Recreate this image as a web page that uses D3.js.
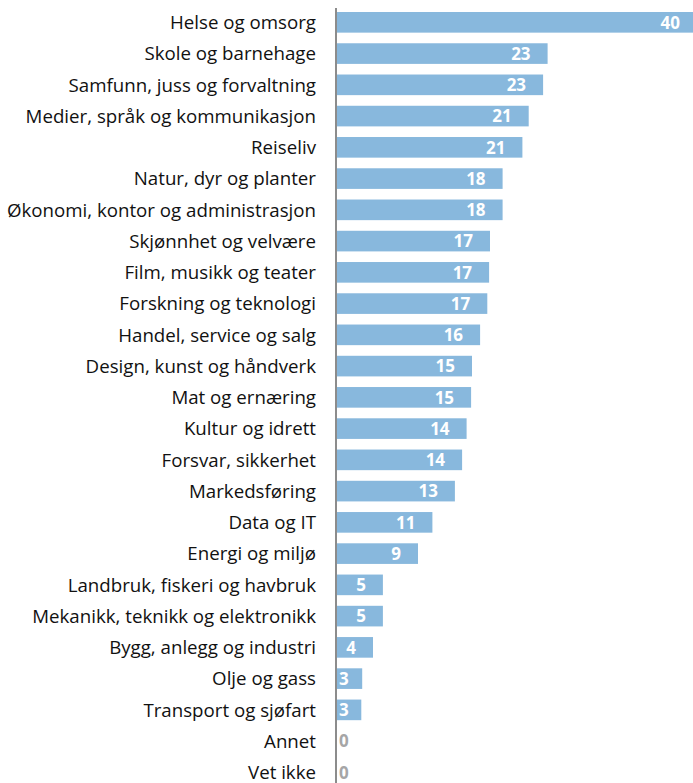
<!DOCTYPE html>
<html>
<head>
<meta charset="utf-8">
<script src="https://cdn.jsdelivr.net/npm/d3@7"></script>
<style>
  body { margin: 0; background: #fff; }
  svg { display: block; }
</style>
</head>
<body>
<div id="chart"></div>
<script>
// categories, top to bottom
const categories = [
  "Helse og omsorg", "Skole og barnehage", "Samfunn, juss og forvaltning",
  "Medier, språk og kommunikasjon", "Reiseliv", "Natur, dyr og planter",
  "Økonomi, kontor og administrasjon", "Skjønnhet og velvære", "Film, musikk og teater",
  "Forskning og teknologi", "Handel, service og salg", "Design, kunst og håndverk",
  "Mat og ernæring", "Kultur og idrett", "Forsvar, sikkerhet", "Markedsføring",
  "Data og IT", "Energi og miljø", "Landbruk, fiskeri og havbruk",
  "Mekanikk, teknikk og elektronikk", "Bygg, anlegg og industri", "Olje og gass",
  "Transport og sjøfart", "Annet", "Vet ikke"
];
// percent
const values = [
  40.0, 23.4, 22.9, 21.3, 20.6, 18.4, 18.4, 17.0, 16.9, 16.7, 15.9, 15.0,
  14.9, 14.4, 13.9, 13.1, 10.6, 9.0, 5.1, 5.1, 4.0, 2.8, 2.7, 0, 0
];

const width = 693, height = 783;
const x0 = 337;

const svg = d3.select("#chart").append("svg")
    .attr("width", width)
    .attr("height", height);

const data = categories.map((c, i) => ({ c, v: values[i] }));

const x = d3.scaleLinear().domain([0, 40]).range([x0, x0 + 360]);
const y = d3.scaleBand().domain(categories).range([6.7, 788]).paddingInner(0.34).paddingOuter(0.17);

svg.selectAll("rect.bar")
  .data(data)
  .join("rect")
    .attr("class", "bar")
    .attr("x", x(0))
    .attr("y", d => y(d.c))
    .attr("width", d => x(d.v) - x(0))
    .attr("height", y.bandwidth())
    .attr("fill", "#88b8dd");

// category labels
svg.selectAll("text.cat")
  .data(data)
  .join("text")
    .attr("class", "cat")
    .attr("x", 316)
    .attr("y", d => y(d.c) + y.bandwidth() / 2)
    .attr("dy", "0.36em")
    .attr("text-anchor", "end")
    .attr("font-family", "'Open Sans', sans-serif")
    .attr("font-size", 18.7)
    .attr("fill", "#111")
    .text(d => d.c);

// value labels
const fmt = d3.format(".0f");
svg.selectAll("text.val")
  .data(data)
  .join("text")
    .attr("class", "val")
    .attr("y", d => y(d.c) + y.bandwidth() / 2)
    .attr("dy", "0.37em")
    .attr("text-anchor", "end")
    .attr("font-family", "'Open Sans', sans-serif")
    .attr("font-weight", "bold")
    .attr("font-size", 17)
    .attr("fill", d => d.v > 0 ? "#fff" : "#a6a6a6")
    .text(d => fmt(d.v))
    .each(function(d) {
      const w = this.getComputedTextLength();
      const xe = Math.max(x(d.v) - 17, x(0) + 2 + w);
      d3.select(this).attr("x", xe);
    });

// vertical axis line
svg.append("line")
    .attr("x1", x0 - 1).attr("x2", x0 - 1)
    .attr("y1", 8).attr("y2", height)
    .attr("stroke", "#8c8c8c")
    .attr("stroke-width", 2);
</script>
</body>
</html>
